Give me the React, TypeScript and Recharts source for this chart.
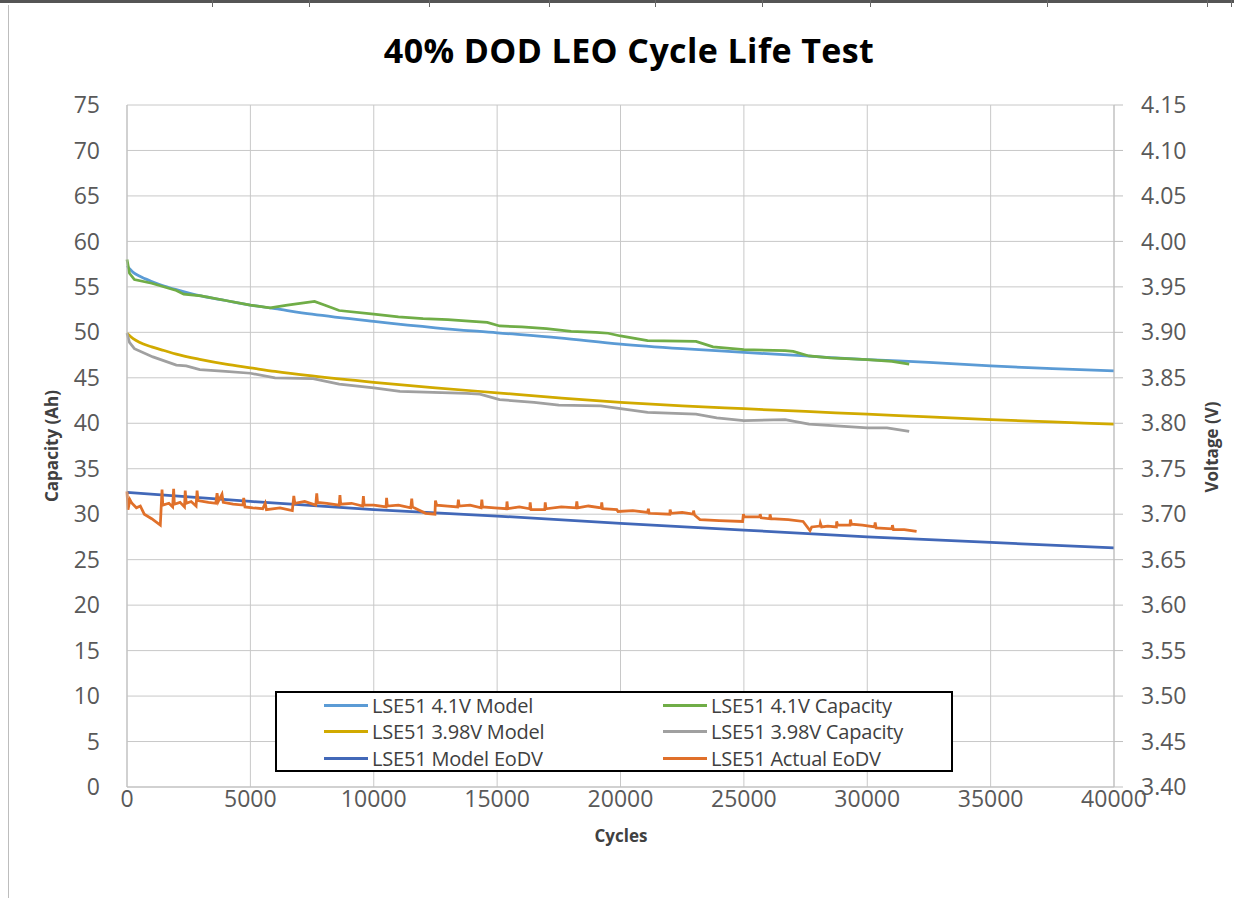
import { CartesianGrid, Line, LineChart, XAxis, YAxis } from "recharts";

// Cycle-life test: capacity (Ah, left axis) and end-of-discharge voltage (V, right axis) vs cycles.

const xTicks = [0, 5000, 10000, 15000, 20000, 25000, 30000, 35000, 40000];
const capTicks = [0, 5, 10, 15, 20, 25, 30, 35, 40, 45, 50, 55, 60, 65, 70, 75];
const voltTicks = [3.4, 3.45, 3.5, 3.55, 3.6, 3.65, 3.7, 3.75, 3.8, 3.85, 3.9, 3.95, 4.0, 4.05, 4.1, 4.15];

// model curves share one cycle grid
const modelCycles = [0, 250, 500, 1000, 1500, 2000, 3000, 4000, 5000, 6000, 7500, 10000, 12500, 15000, 17500, 20000, 22500, 25000, 27500, 30000, 32500, 35000, 37500, 40000];
const model41 = [57.3, 56.6, 56.2, 55.6, 55.1, 54.7, 54.0, 53.5, 53.0, 52.6, 52.0, 51.2, 50.5, 49.95, 49.4, 48.7, 48.2, 47.8, 47.4, 47.0, 46.7, 46.3, 46.0, 45.75];
const model398 = [49.9, 49.3, 48.9, 48.4, 48.0, 47.6, 47.0, 46.5, 46.1, 45.7, 45.2, 44.5, 43.9, 43.35, 42.8, 42.3, 41.9, 41.6, 41.3, 41.0, 40.7, 40.4, 40.15, 39.9];

const cap41Cycles = [0, 100, 300, 1000, 2000, 2300, 3000, 4000, 5000, 5800, 6500, 7600, 8000, 8600, 10000, 11000, 12000, 13000, 14000, 14600, 15100, 16000, 17000, 18000, 19000, 19500, 20000, 21100, 23060, 23750, 25000, 26670, 27000, 27640, 28500, 30000, 31000, 31700];
const cap41 = [58.0, 56.5, 55.8, 55.4, 54.6, 54.2, 54.0, 53.5, 53.0, 52.7, 53.0, 53.4, 53.0, 52.4, 52.0, 51.7, 51.5, 51.4, 51.2, 51.1, 50.7, 50.6, 50.4, 50.1, 50.0, 49.9, 49.6, 49.1, 49.0, 48.4, 48.1, 48.0, 47.9, 47.4, 47.2, 47.0, 46.8, 46.5];

const cap398Cycles = [0, 100, 300, 1050, 2000, 2400, 2950, 4000, 5000, 6000, 7540, 8600, 10000, 11060, 13770, 14300, 15100, 16500, 17500, 19200, 20000, 21100, 23060, 23900, 25000, 26670, 27640, 30000, 30800, 31700];
const cap398 = [49.9, 48.9, 48.2, 47.3, 46.4, 46.3, 45.9, 45.7, 45.5, 45.0, 44.9, 44.3, 43.9, 43.5, 43.3, 43.2, 42.6, 42.3, 42.0, 41.9, 41.6, 41.2, 41.0, 40.6, 40.3, 40.4, 39.9, 39.5, 39.5, 39.1];

const eodvModelCycles = [0, 5000, 10000, 15000, 20000, 25000, 30000, 35000, 40000];
const eodvModel = [3.724, 3.714, 3.705, 3.698, 3.69, 3.6825, 3.675, 3.669, 3.663];

const eodvActualCycles = [
  0, 40, 120, 200, 380, 540, 700, 1000, 1350, 1420, 1450, 1700, 1850, 1890, 1920, 2150, 2330, 2360, 2400, 2600, 2800, 2840, 2880,
  3300, 3600, 3650, 3700, 3850, 3900, 4300, 4700, 4730, 4780, 5100, 5500, 5600, 5650, 6200, 6700, 6760, 6800, 7200, 7650, 7690, 7720,
  8100, 8600, 8630, 8660, 9100, 9550, 9580, 9610, 10000, 10500, 10520, 10550, 11000, 11500, 11540, 11570, 12100, 12480, 12500, 12550,
  13000, 13400, 13430, 13460, 13900, 14350, 14380, 14410, 14900, 15380, 15400, 15430, 15900, 16320, 16340, 16370, 16930, 16950, 16980,
  17600, 18200, 18230, 18260, 18700, 19220, 19240, 19270, 19850, 19900, 20500, 21100, 21130, 21160, 22000, 22010, 22050, 22500, 22950,
  22960, 23000, 23220, 24000, 24950, 24980, 25020, 25650, 25660, 25700, 26050, 26060, 26100, 26800, 27400, 27680, 27750,
  28080, 28100, 28150, 28400, 28750, 28760, 28800, 29300, 29320, 29360, 29800, 30300, 30320, 30360, 31000, 31020, 31060, 31500, 32000,
];
const eodvActual = [
  3.725, 3.705, 3.716, 3.712, 3.707, 3.709, 3.7, 3.695, 3.688, 3.727, 3.71, 3.712, 3.708, 3.728, 3.711, 3.713, 3.708, 3.726, 3.712, 3.714, 3.709, 3.726, 3.715,
  3.713, 3.712, 3.723, 3.714, 3.722, 3.713, 3.711, 3.71, 3.718, 3.708, 3.707, 3.706, 3.712, 3.705, 3.707, 3.704, 3.72, 3.712, 3.714, 3.71, 3.723, 3.713,
  3.712, 3.71, 3.721, 3.711, 3.712, 3.709, 3.72, 3.71, 3.71, 3.708, 3.718, 3.709, 3.71, 3.707, 3.717, 3.708, 3.701, 3.7, 3.715, 3.71,
  3.709, 3.708, 3.716, 3.709, 3.71, 3.707, 3.716, 3.708, 3.707, 3.706, 3.714, 3.706, 3.708, 3.706, 3.713, 3.705, 3.705, 3.713, 3.706,
  3.708, 3.707, 3.714, 3.707, 3.709, 3.707, 3.713, 3.706, 3.705, 3.703, 3.704, 3.702, 3.706, 3.701, 3.7, 3.705, 3.701, 3.702, 3.7,
  3.704, 3.699, 3.694, 3.693, 3.692, 3.7, 3.697, 3.697, 3.7, 3.696, 3.695, 3.7, 3.695, 3.694, 3.692, 3.682, 3.686,
  3.687, 3.69, 3.686, 3.687, 3.686, 3.692, 3.688, 3.688, 3.694, 3.689, 3.688, 3.686, 3.691, 3.685, 3.684, 3.688, 3.683, 3.683, 3.681,
];

const zip = (xs: number[], ys: number[]) => xs.map((x, i) => ({ x, y: ys[i] }));

const series = [
  { name: "LSE51 4.1V Model", color: "#5B9BD5", axis: "left", type: "monotone", data: zip(modelCycles, model41) },
  { name: "LSE51 4.1V Capacity", color: "#70AD47", axis: "left", type: "linear", data: zip(cap41Cycles, cap41) },
  { name: "LSE51 3.98V Model", color: "#D1AA00", axis: "left", type: "monotone", data: zip(modelCycles, model398) },
  { name: "LSE51 3.98V Capacity", color: "#A0A0A0", axis: "left", type: "linear", data: zip(cap398Cycles, cap398) },
  { name: "LSE51 Model EoDV", color: "#4268B8", axis: "right", type: "linear", data: zip(eodvModelCycles, eodvModel) },
  { name: "LSE51 Actual EoDV", color: "#E0702A", axis: "right", type: "linear", data: zip(eodvActualCycles, eodvActual) },
] as const;

const font = "'Open Sans', sans-serif";
const tickStyle = { fontSize: 23, fill: "#595959", fontFamily: font };
const topMarks = [212, 309, 429, 549, 655, 762, 870, 1047, 1207, 1231];

const axisTitle = {
  position: "absolute",
  fontFamily: font,
  fontWeight: 700,
  fontSize: 17,
  color: "#404040",
  textAlign: "center",
} as const;

export default function App() {
  return (
    <div style={{ position: "relative", width: 1234, height: 898, background: "#fff", overflow: "hidden" }}>
      <style>{"body{margin:0;overflow:hidden}"}</style>
      {/* spreadsheet cell borders behind the chart */}
      <div style={{ position: "absolute", left: 0, top: 0, width: 1234, height: 3, background: "#555" }} />
      {topMarks.map((x) => (
        <div key={x} style={{ position: "absolute", left: x, top: 0, width: 1, height: 7, background: "#666" }} />
      ))}
      <div style={{ position: "absolute", left: 8, top: 5, width: 1, height: 893, background: "#bdbdbd" }} />

      <div
        style={{
          position: "absolute",
          left: 0,
          width: 1258,
          top: 28,
          textAlign: "center",
          fontFamily: font,
          fontWeight: 700,
          fontSize: 34,
          letterSpacing: 0.4,
          lineHeight: "44px",
          color: "#000",
        }}
      >
        40% DOD LEO Cycle Life Test
      </div>

      <LineChart
        width={1234}
        height={898}
        margin={{ top: 105, right: 0, bottom: 51, left: 0 }}
        accessibilityLayer={false}
        style={{ position: "absolute", left: 0, top: 0 }}
      >
        <CartesianGrid yAxisId="left" stroke="#c8c8c8" strokeWidth={1} />
        <XAxis
          dataKey="x"
          type="number"
          domain={[0, 40000]}
          ticks={xTicks}
          height={60}
          tickLine={false}
          tickSize={0}
          tickMargin={4}
          stroke="#bfbfbf"
          tick={tickStyle}
        />
        <YAxis
          yAxisId="left"
          orientation="left"
          domain={[0, 75]}
          ticks={capTicks}
          width={127}
          tickLine={false}
          tickSize={0}
          tickMargin={27}
          stroke="#bfbfbf"
          tick={tickStyle}
        />
        <YAxis
          yAxisId="right"
          orientation="right"
          domain={[3.4, 4.15]}
          ticks={voltTicks}
          width={120}
          tickSize={9}
          tickMargin={18}
          stroke="#bfbfbf"
          tick={tickStyle}
          tickFormatter={(v: number) => v.toFixed(2)}
        />
        {series.map((s) => (
          <Line
            key={s.name}
            yAxisId={s.axis}
            data={s.data as any}
            dataKey="y"
            name={s.name}
            type={s.type}
            stroke={s.color}
            strokeWidth={2.75}
            dot={false}
            activeDot={false}
            isAnimationActive={false}
          />
        ))}
      </LineChart>

      {/* axis titles */}
      <div style={{ ...axisTitle, left: 521, width: 200, top: 824 }}>Cycles</div>
      <div
        style={{
          ...axisTitle,
          left: 52 - 100,
          top: 446 - 12,
          width: 200,
          height: 24,
          lineHeight: "24px",
          transform: "rotate(-90deg)",
        }}
      >
        Capacity (Ah)
      </div>
      <div
        style={{
          ...axisTitle,
          left: 1212 - 100,
          top: 447 - 12,
          width: 200,
          height: 24,
          lineHeight: "24px",
          transform: "rotate(-90deg)",
        }}
      >
        Voltage (V)
      </div>

      {/* legend box */}
      <div
        style={{
          position: "absolute",
          left: 275,
          top: 691,
          width: 674,
          height: 77,
          border: "2px solid #000",
          background: "#fff",
          fontFamily: font,
          fontSize: 20,
          color: "#404040",
        }}
      >
        {series.map((s, i) => (
          <div
            key={s.name}
            style={{
              position: "absolute",
              left: i % 2 === 0 ? 47 : 386,
              top: -1 + Math.floor(i / 2) * 26.5,
              height: 26,
              display: "flex",
              alignItems: "center",
              whiteSpace: "nowrap",
            }}
          >
            <span style={{ display: "inline-block", width: 44, height: 3, background: s.color, marginRight: 4 }} />
            <span style={{ letterSpacing: -0.2 }}>{s.name}</span>
          </div>
        ))}
      </div>
    </div>
  );
}
